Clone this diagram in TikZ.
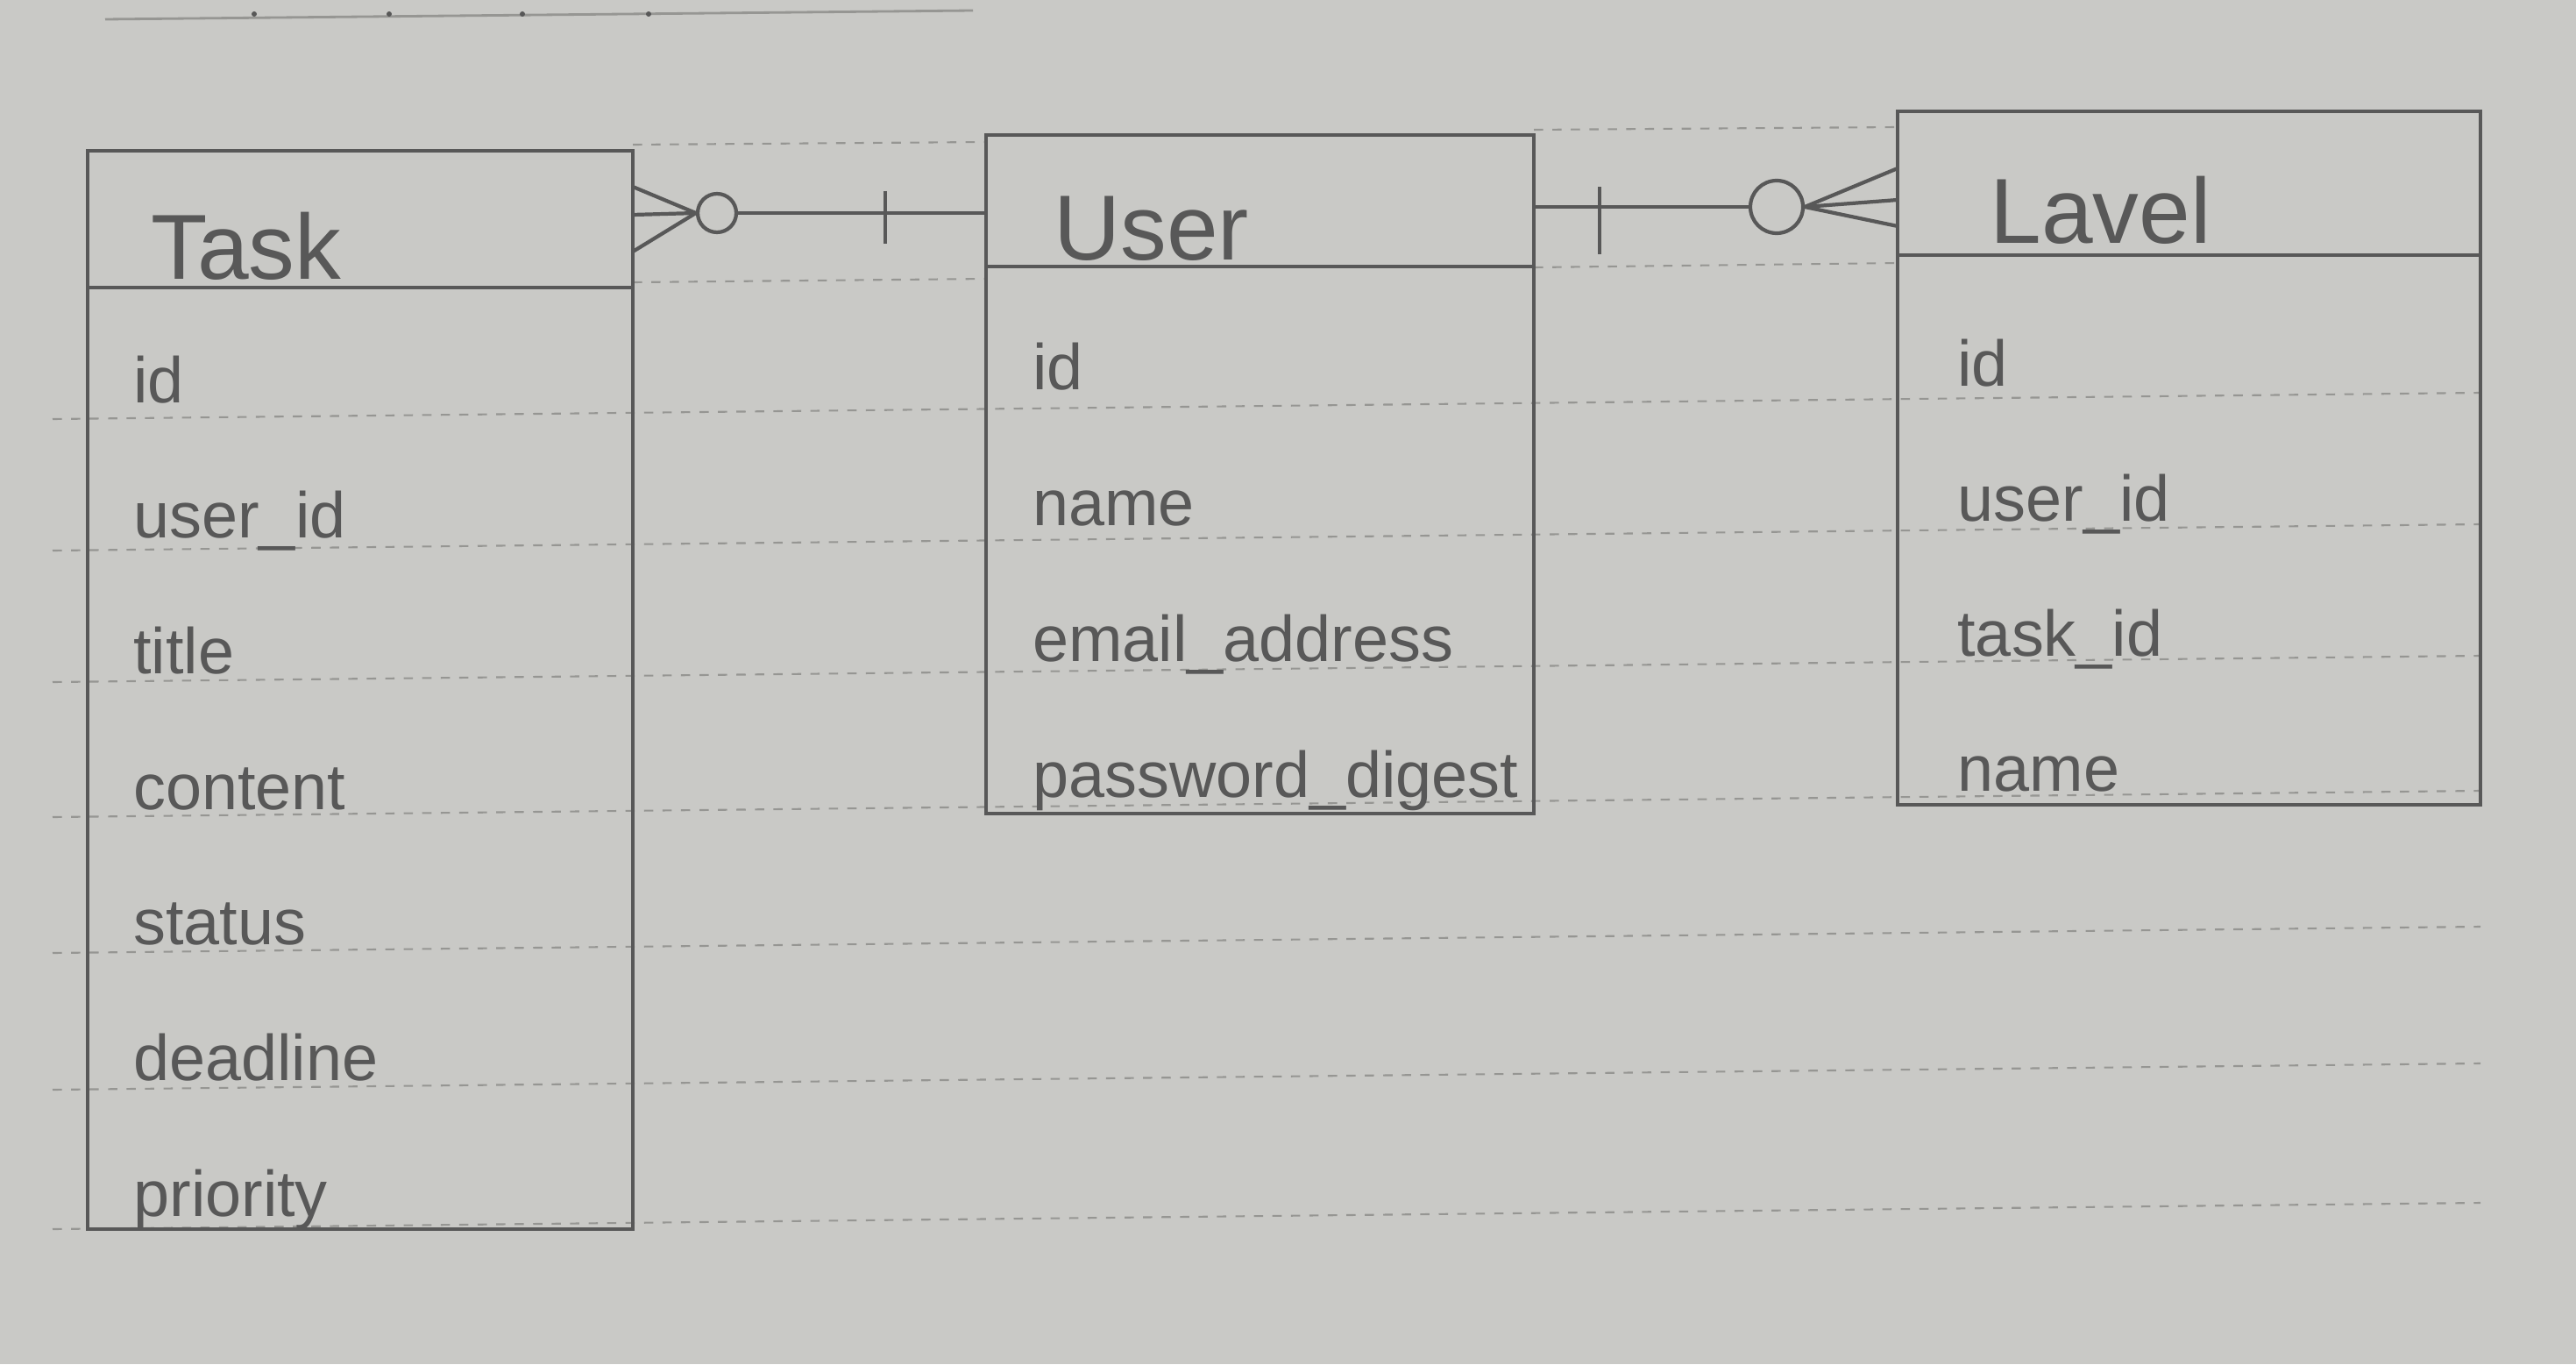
\documentclass[tikz,border=0pt]{standalone}
\usepackage{fontspec}
\setmainfont{Liberation Sans}
\usetikzlibrary{positioning,calc}
\definecolor{paper}{RGB}{201,201,198}
\definecolor{pencil}{RGB}{88,88,88}
\definecolor{ruling}{RGB}{150,150,147}

\begin{document}
\begin{tikzpicture}[
    head/.style={draw=pencil, line width=1.3pt, inner sep=0pt, outer sep=0pt},
    body/.style={draw=pencil, line width=1.3pt, inner sep=0pt, outer sep=0pt},
    title/.style={anchor=base west, text=pencil, font=\fontsize{30}{30}\selectfont},
    attr/.style={anchor=base west, text=pencil, font=\fontsize{21}{21}\selectfont},
    rule/.style={draw=ruling, dash pattern=on 3pt off 3pt, line width=0.6pt},
    rel/.style={draw=pencil, line width=1.2pt},
    circ/.style={draw=pencil, circle, line width=1.2pt, inner sep=0pt}
  ]
  \fill[paper] (0,0) rectangle (29.39,-15.56);
  \useasboundingbox (0,0) rectangle (29.39,-15.56);

  \draw[ruling, line width=0.8pt] (1.20,-0.22) -- (11.10,-0.12);
  \foreach \x in {2.90,4.44,5.96,7.40}
    \fill[pencil] (\x,-0.16) circle (0.03);

  \draw[rule] (7.22,-1.65) -- (11.25,-1.62);
  \draw[rule] (17.50,-1.48) -- (21.65,-1.45);
  \draw[rule] (7.22,-3.22) -- (11.25,-3.18);
  \draw[rule] (17.50,-3.05) -- (21.65,-3.00);
  \foreach \y in {4.78,6.28,7.78,9.32,10.87,12.43,14.02}
    \draw[rule] (0.6,-\y) -- (28.3,-\y+0.30);

  \node[head, minimum width=6.22cm, minimum height=1.56cm] (taskh) at (4.11,-2.50) {};
  \node[body, minimum width=6.22cm, minimum height=10.74cm, below=0pt of taskh] (taskb) {};
  \node[head, minimum width=6.25cm, minimum height=1.50cm] (userh) at (14.375,-2.29) {};
  \node[body, minimum width=6.25cm, minimum height=6.24cm, below=0pt of userh] (userb) {};
  \node[head, minimum width=6.65cm, minimum height=1.64cm] (lavh) at (24.975,-2.09) {};
  \node[body, minimum width=6.65cm, minimum height=6.27cm, below=0pt of lavh] (lavb) {};

  \node[title] (tasklbl) at (1.60,-3.18) {Task};
  \node[title] (userlbl) at (11.90,-2.96) {User};
  \node[title] (lavlbl) at (22.58,-2.77) {Lavel};

  \foreach \t [count=\i] in {id,user\_id,title,content,status,deadline,priority}
    \node[attr] (task-\i) at (1.40,{-4.59-1.547*(\i-1)}) {\t};
  \foreach \t [count=\i] in {id,name,email\_address,password\_digest}
    \node[attr] (user-\i) at (11.66,{-4.44-1.55*(\i-1)}) {\t};
  \foreach \t [count=\i] in {id,user\_id,task\_id,name}
    \node[attr] (lav-\i) at (22.21,{-4.40-1.54*(\i-1)}) {\t};

  % Task >o----|- User
  \node[circ, minimum size=0.44cm] (o1) at (8.18,-2.43) {};
  \draw[rel] (o1.west) -- ($(taskh.east)+(0,0.37)$);
  \draw[rel] (o1.west) -- ($(taskh.east)+(0,0.05)$);
  \draw[rel] (o1.west) -- ($(taskh.east)+(0,-0.37)$);
  \draw[rel] (o1.east) -- (o1.east -| userh.west);
  \draw[rel] ($(o1 -| userh.west)+(-1.15,0.25)$) -- ++(0,-0.60);

  % User -|----o< Lavel
  \node[circ, minimum size=0.60cm] (o2) at (20.27,-2.36) {};
  \draw[rel] (o2.west) -- (o2.west -| userh.east);
  \draw[rel] ($(o2 -| userh.east)+(0.75,0.23)$) -- ++(0,-0.77);
  \draw[rel] (o2.east) -- ($(lavh.west)+(0,0.17)$);
  \draw[rel] (o2.east) -- ($(lavh.west)+(0,-0.19)$);
  \draw[rel] (o2.east) -- ($(lavh.west)+(0,-0.49)$);
\end{tikzpicture}
\end{document}
